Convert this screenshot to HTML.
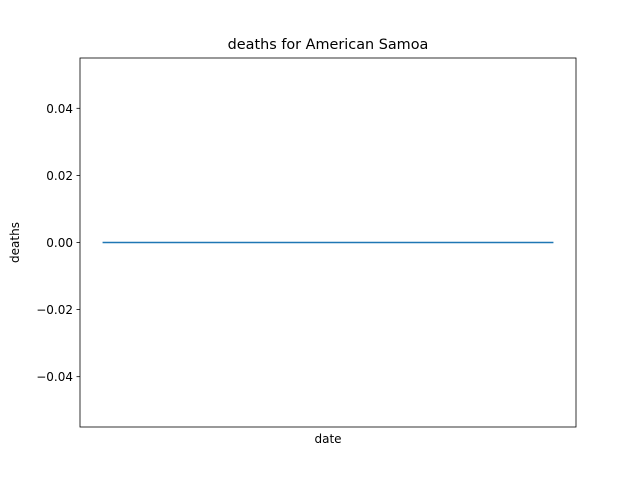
<!DOCTYPE html>
<html><head><meta charset="utf-8"><style>
body{margin:0;background:#fff}
svg text{font-family:"DejaVu Sans","Liberation Sans",sans-serif;fill:#000}
</style></head><body>
<svg id="chart" width="640" height="480">
<rect x="0" y="0" width="640" height="480" fill="#fff"/>
<text x="328" y="49" font-size="14.4" text-anchor="middle">deaths for American Samoa</text>
<g id="yticks"></g>
<path id="line" fill="none" stroke="#1f77b4" stroke-width="1.5"/>
<rect x="80" y="58" width="496" height="369" fill="none" stroke="#000" stroke-width="0.8"/>
<text x="328" y="443" font-size="12" text-anchor="middle">date</text>
<text x="0" y="0" font-size="12" text-anchor="middle" transform="translate(19,242.5) rotate(-90)">deaths</text>
</svg>
<script>
const dates = ["2020-03-01","2020-04-01","2020-05-01","2020-06-01","2020-07-01","2020-08-01","2020-09-01","2020-10-01","2020-11-01","2020-12-01"];
const deaths = [0,0,0,0,0,0,0,0,0,0];
const yTicks = [-0.04,-0.02,0,0.02,0.04];
const yTickLabels = ["\u22120.04","\u22120.02","0.00","0.02","0.04"];
const L=80,R=576,T=58,B=427;
const yMin=-0.055,yMax=0.055;
const y=v=>B-(v-yMin)/(yMax-yMin)*(B-T);
const n=dates.length;
const pad=(R-L)*0.0455;
const x=i=>L+pad+(n>1?i/(n-1):0.5)*(R-L-2*pad);
const ns="http://www.w3.org/2000/svg";
const g=document.getElementById('yticks');
yTicks.forEach((t,i)=>{
  const ln=document.createElementNS(ns,'line');
  ln.setAttribute('x1',L-3.5);ln.setAttribute('x2',L);
  ln.setAttribute('y1',y(t));ln.setAttribute('y2',y(t));
  ln.setAttribute('stroke','#000');ln.setAttribute('stroke-width','0.8');
  
  
  g.appendChild(ln);
  const tx=document.createElementNS(ns,'text');
  tx.setAttribute('x',L-7);tx.setAttribute('y',y(t)+4.5);
  tx.setAttribute('font-size','12');tx.setAttribute('text-anchor','end');
  tx.textContent=yTickLabels[i];
  
  
  g.appendChild(tx);
});
document.getElementById('line').setAttribute('d',deaths.map((v,i)=>(i?'L':'M')+x(i)+','+y(v)).join(' '));
</script>
</body></html>
